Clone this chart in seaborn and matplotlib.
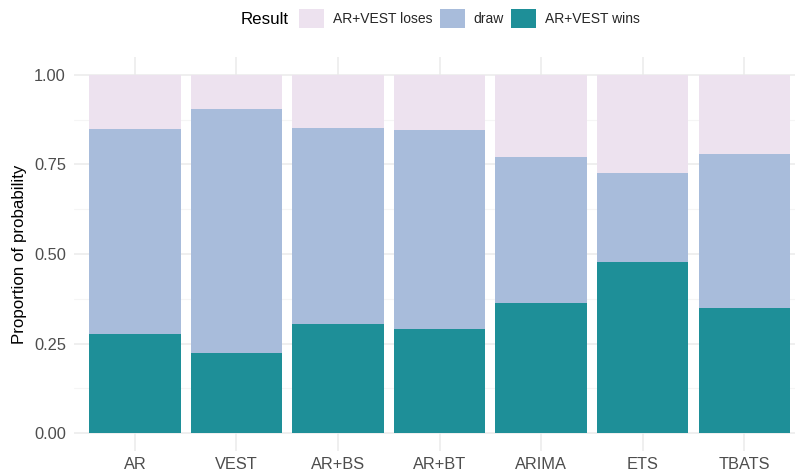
import matplotlib
matplotlib.use("Agg")
import matplotlib.pyplot as plt
import seaborn as sns
import pandas as pd
import numpy as np
from matplotlib.patches import Patch

methods = ["AR", "VEST", "AR+BS", "AR+BT", "ARIMA", "ETS", "TBATS"]
wins  = [0.276, 0.223, 0.304, 0.290, 0.363, 0.478, 0.349]
draw  = [0.573, 0.682, 0.548, 0.556, 0.408, 0.248, 0.430]
loses = [0.151, 0.095, 0.148, 0.154, 0.229, 0.274, 0.221]
results = ["AR+VEST loses", "draw", "AR+VEST wins"]
colors = {"AR+VEST loses": "#EDE2EF", "draw": "#A8BCDB", "AR+VEST wins": "#1E8F98"}

sns.set_theme(style="white")
plt.rcParams["font.family"] = ["Liberation Sans", "DejaVu Sans"]

W, H = 795, 473
fig = plt.figure(figsize=(W / 100, H / 100), dpi=100)
x0, x1, y0, y1 = 74, 795, 57, 451
ax = fig.add_axes([x0 / W, 1 - y1 / H, (x1 - x0) / W, (y1 - y0) / H])

df = pd.DataFrame({"method": methods, "wins": wins, "draw": draw, "loses": loses})
df["c_wins"] = df["wins"]
df["c_draw"] = df["wins"] + df["draw"]
df["c_loses"] = df["wins"] + df["draw"] + df["loses"]

for col, res in [("c_loses", "AR+VEST loses"), ("c_draw", "draw"), ("c_wins", "AR+VEST wins")]:
    sns.barplot(data=df, x="method", y=col, order=methods, color=colors[res],
                saturation=1, width=0.9, errorbar=None, linewidth=0, ax=ax, zorder=2)

ax.set_xlim(-0.6, 6.5)
ax.set_ylim(-0.05, 1.05)
ax.set_yticks([0, 0.25, 0.5, 0.75, 1.0])
ax.set_yticklabels(["0.00", "0.25", "0.50", "0.75", "1.00"])
ax.set_yticks([0.125, 0.375, 0.625, 0.875], minor=True)
ax.grid(True, which="major", color="#EBEBEB", linewidth=1.1, zorder=0)
ax.grid(True, which="minor", axis="y", color="#F5F5F5", linewidth=0.8, zorder=0)
ax.set_axisbelow(True)
for s in ax.spines.values():
    s.set_visible(False)
ax.tick_params(axis="y", which="both", length=0, labelsize=11.8, labelcolor="#4D4D4D", pad=5.8)
ax.tick_params(axis="x", which="both", length=0, labelsize=11.8, labelcolor="#4D4D4D", pad=4.5)
ax.set_xlabel("")
ax.set_ylabel("Proportion of probability", fontsize=12.2, color="black", labelpad=5)

handles = [Patch(facecolor=colors[r], edgecolor="none", label=r) for r in results]
leg = fig.legend(handles=handles, loc="center", ncol=3, frameon=False,
                 bbox_to_anchor=(469.5 / W, 1 - 18.5 / H), fontsize=10,
                 handlelength=1.8, handleheight=1.8, handletextpad=0.62,
                 columnspacing=0.55, borderpad=0, borderaxespad=0)
fig.text(240.5 / W, 1 - 19 / H, "Result", fontsize=12.2, ha="left", va="center", color="black")

fig.savefig("out.png", dpi=100)
